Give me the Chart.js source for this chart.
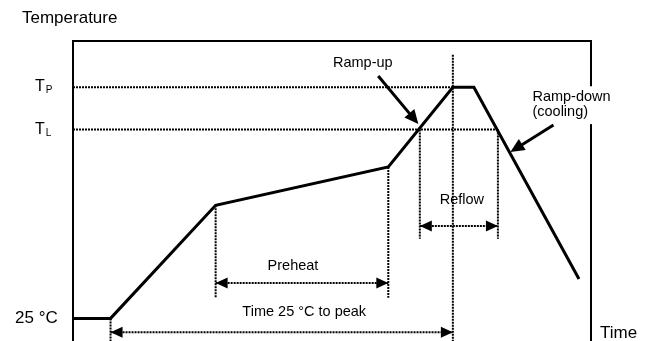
<!DOCTYPE html>
<html><head><meta charset="utf-8">
<script src="https://cdn.jsdelivr.net/npm/chart.js@4/dist/chart.umd.min.js"></script>
<style>html,body{margin:0;padding:0;background:#fff;overflow:hidden}#wrap{width:650px;height:341px;position:relative}</style>
</head><body><div id="wrap"><canvas id="c" width="650" height="341"></canvas></div>
<script>
// ---- data (time in s, temperature in °C) ----
const profileTime = [0, 25, 95, 210, 253, 267, 337];
const profileTemp = [25, 25, 140, 179, 260, 260, 65];
const levelTemps = [25, 217, 260];
const levelNames = ['25 °C', 'T', 'T'];
const levelSubs  = ['', 'L', 'P'];
const preheatTimes = [95, 210];
const reflowTimes  = [231, 283];
const peakTime = 253;
const startTime = 25;
const spanLabels = ['Preheat', 'Reflow', 'Time 25 °C to peak'];
const noteLabels = ['Ramp-up', 'Ramp-down', '(cooling)'];
const axisTitles = ['Temperature', 'Time'];

// ---- layout (data units) ----
const X_MAX = 345, Y_MIN = 2, Y_MAX = 307;
const spanGeom = [
  {from: preheatTimes[0], to: preheatTimes[1], y: 61, ty: 78, tx: 146.5},
  {from: reflowTimes[0],  to: reflowTimes[1],  y: 119, ty: 145.5, tx: 259},
  {from: startTime,       to: peakTime,        y: 11,  ty: 31.5, tx: 154}
];
const FONT = "'Liberation Sans', Arial, Helvetica, sans-serif";

const seg = (a, b) => [{x: a[0], y: a[1]}, {x: b[0], y: b[1]}];
const dottedSegs = [
  seg([0, levelTemps[2]], [peakTime, levelTemps[2]]),
  seg([0, levelTemps[1]], [reflowTimes[1], levelTemps[1]]),
  seg([peakTime, 293], [peakTime, Y_MIN]),
  seg([reflowTimes[0], levelTemps[1]], [reflowTimes[0], 106]),
  seg([reflowTimes[1], levelTemps[1]], [reflowTimes[1], 106]),
  seg([preheatTimes[0], profileTemp[2]], [preheatTimes[0], 46]),
  seg([preheatTimes[1], profileTemp[3]], [preheatTimes[1], 46]),
  seg([startTime, levelTemps[0]], [startTime, Y_MIN]),
  ...spanGeom.map(s => seg([s.from, s.y], [s.to, s.y]))
];

const datasets = [{
  data: profileTime.map((t, i) => ({x: t, y: profileTemp[i]})),
  borderColor: '#000', borderWidth: 3, pointRadius: 0, showLine: true, tension: 0,
  borderJoinStyle: 'miter'
}];
dottedSegs.forEach(d => datasets.push({
  data: d, borderColor: '#000', borderWidth: 2, borderDash: [2, 1],
  pointRadius: 0, showLine: true
}));

function head(ctx, tx, ty, fx, fy, len, hw) {
  const a = Math.atan2(ty - fy, tx - fx);
  ctx.beginPath();
  ctx.moveTo(tx, ty);
  ctx.lineTo(tx - len * Math.cos(a) + hw * Math.sin(a), ty - len * Math.sin(a) - hw * Math.cos(a));
  ctx.lineTo(tx - len * Math.cos(a) - hw * Math.sin(a), ty - len * Math.sin(a) + hw * Math.cos(a));
  ctx.closePath();
  ctx.fill();
}

const deco = {
  id: 'deco',
  beforeDatasetsDraw(chart) {
    const {ctx, chartArea: a} = chart;
    ctx.save();
    ctx.strokeStyle = '#000'; ctx.lineWidth = 2;
    ctx.beginPath();
    ctx.moveTo(a.left, a.bottom + 2); ctx.lineTo(a.left, a.top); ctx.lineTo(a.right, a.top); ctx.lineTo(a.right, a.bottom + 2);
    ctx.stroke();
    ctx.restore();
  },
  afterDatasetsDraw(chart) {
    const {ctx} = chart;
    const X = v => chart.scales.x.getPixelForValue(v);
    const Y = v => chart.scales.y.getPixelForValue(v);
    ctx.save();
    ctx.fillStyle = '#000'; ctx.strokeStyle = '#000';
    // span arrowheads + labels
    spanGeom.forEach((s, i) => {
      const y = Y(s.y), x1 = X(s.from), x2 = X(s.to);
      head(ctx, x1, y, x2, y, 12, 5.5);
      head(ctx, x2, y, x1, y, 12, 5.5);
      ctx.font = '14.5px ' + FONT; ctx.textAlign = 'center'; ctx.textBaseline = 'middle';
      ctx.fillText(spanLabels[i], X(s.tx), Y(s.ty));
    });
    // ramp-up note
    ctx.font = '14.5px ' + FONT; ctx.textAlign = 'center'; ctx.textBaseline = 'middle';
    ctx.fillText(noteLabels[0], X(193), Y(284.6));
    const drawArrow = (f, t) => {
      const fx = X(f[0]), fy = Y(f[1]), tx = X(t[0]), ty = Y(t[1]);
      const a = Math.atan2(ty - fy, tx - fx);
      ctx.lineWidth = 3;
      ctx.beginPath(); ctx.moveTo(fx, fy); ctx.lineTo(tx - 10 * Math.cos(a), ty - 10 * Math.sin(a)); ctx.stroke();
      head(ctx, tx, ty, fx, fy, 14, 6.5);
    };
    drawArrow([203.3, 271.4], [230, 222.6]);
    // ramp-down note (white box over frame)
    ctx.fillStyle = '#fff';
    ctx.fillRect(X(303.5), Y(261), X(362) - X(303.5), Y(222.5) - Y(261));
    ctx.fillStyle = '#000';
    ctx.textAlign = 'left';
    ctx.fillText(noteLabels[1], X(306), Y(250));
    ctx.fillText(noteLabels[2], X(306), Y(234.8));
    drawArrow([320, 221.6], [291.3, 194.2]);
    // level labels
    levelTemps.forEach((t, i) => {
      const y = Y(t);
      if (levelSubs[i]) {
        ctx.font = '16px ' + FONT; ctx.textAlign = 'left'; ctx.textBaseline = 'alphabetic';
        ctx.fillText(levelNames[i], 35, y + 4);
        const w = ctx.measureText(levelNames[i]).width;
        ctx.font = '10px ' + FONT;
        ctx.fillText(levelSubs[i], 35 + w + 1, y + 6);
      } else {
        ctx.font = '17px ' + FONT; ctx.textAlign = 'left'; ctx.textBaseline = 'alphabetic';
        ctx.fillText(levelNames[i], 15, y + 5);
      }
    });
    // axis titles
    ctx.font = '17px ' + FONT; ctx.textAlign = 'left'; ctx.textBaseline = 'alphabetic';
    ctx.fillText(axisTitles[0], 22, 23);
    ctx.fillText(axisTitles[1], chart.chartArea.right + 9, 338);
    ctx.restore();
  }
};

new Chart(document.getElementById('c'), {
  type: 'scatter',
  data: {datasets},
  options: {
    responsive: false, animation: false,
    layout: {padding: {left: 73, right: 59, top: 41, bottom: 0}},
    plugins: {legend: {display: false}, tooltip: {enabled: false}},
    scales: {
      x: {type: 'linear', min: 0, max: X_MAX, display: false},
      y: {type: 'linear', min: Y_MIN, max: Y_MAX, display: false}
    }
  },
  plugins: [deco]
});
</script></body></html>
